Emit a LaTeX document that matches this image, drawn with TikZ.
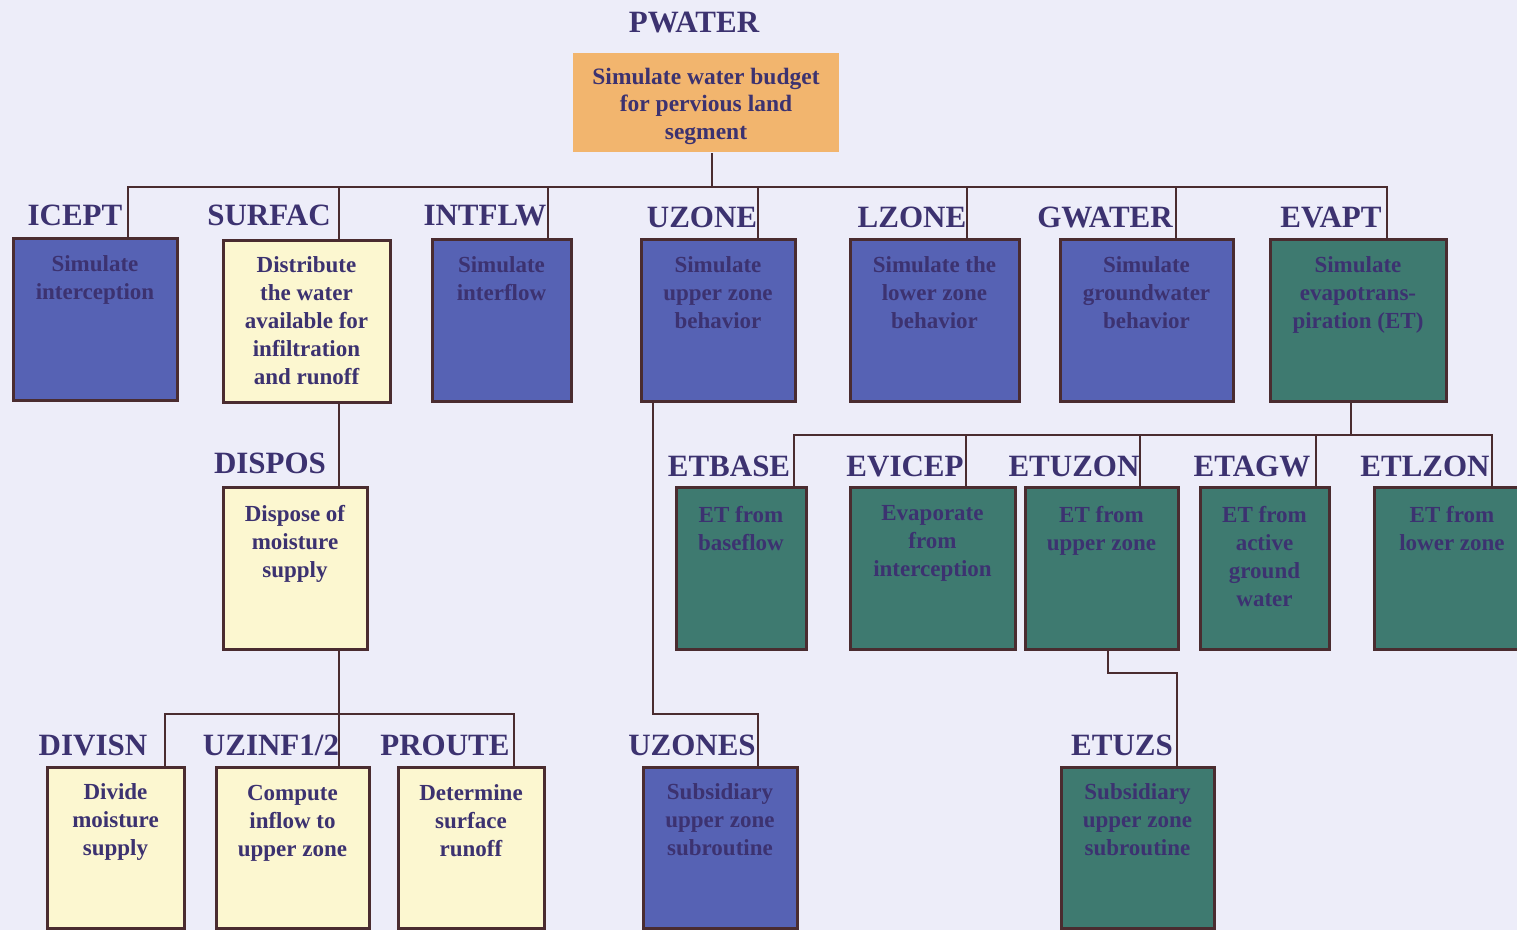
\documentclass[tikz,border=0pt]{standalone}
\usepackage{fontspec}
\setmainfont{Liberation Serif}
\usepackage{tikz}
\usetikzlibrary{calc,positioning}
\usepackage{xcolor}
\definecolor{pagebg}{RGB}{237,237,249}
\definecolor{peach}{RGB}{242,181,110}
\definecolor{cream}{RGB}{252,247,208}
\definecolor{hblue}{RGB}{86,98,180}
\definecolor{hteal}{RGB}{62,122,112}
\definecolor{ink}{RGB}{60,50,112}
\definecolor{wire}{RGB}{74,44,48}
\tikzset{
  box/.style={draw=wire, line width=1.5pt, inner sep=0pt},
  title/.style={font=\fontsize{15.5}{18}\selectfont\bfseries, text=ink, inner sep=0pt,
    text height=10.5pt, text depth=0pt},
  txt/.style={font=\fontsize{11.5}{14}\selectfont\bfseries, text=ink, align=center,
    inner sep=0pt, anchor=north},
  link/.style={draw=wire, line width=1pt},
}

\begin{document}
\begin{tikzpicture}[x=0.5pt, y=-0.5pt]
\useasboundingbox (0,0) rectangle (1517,930);
\clip (0,0) rectangle (1517,930);
\fill[pagebg] (0,0) rectangle (1517,930);

% Main routine
\node[title] (pwater-t) at (694,22) {PWATER};
\node[box, draw=none, fill=peach, minimum width=133pt, minimum height=49.5pt] (pwater) at (706,102.5) {};
\node[txt, font=\fontsize{11.75}{13.75}\selectfont\bfseries] at ($(pwater.north)+(0,16)$)
  {Simulate water budget\\for pervious land\\segment};

% First level
\node[box, fill=hblue, minimum width=82pt, minimum height=81pt] (icept) at (95,320) {};
\node[box, fill=cream, minimum width=83.5pt, minimum height=81pt] (surfac) at (306.5,321.5) {};
\node[box, fill=hblue, minimum width=69.5pt, minimum height=81pt] (intflw) at (501.5,321) {};
\node[box, fill=hblue, minimum width=77pt, minimum height=81pt] (uzone) at (718,321) {};
\node[box, fill=hblue, minimum width=84.5pt, minimum height=81pt] (lzone) at (934.5,321) {};
\node[box, fill=hblue, minimum width=86.5pt, minimum height=81pt] (gwater) at (1146.5,321) {};
\node[box, fill=hteal, minimum width=88pt, minimum height=81pt] (evapt) at (1358,321) {};

\node[title] at (75,215) {ICEPT};
\node[title] at (269,215) {SURFAC};
\node[title] at (485,215) {INTFLW};
\node[title] at (702,217) {UZONE};
\node[title] at (912,217) {LZONE};
\node[title] at (1105,217) {GWATER};
\node[title] at (1331,217) {EVAPT};

\node[txt] at ($(icept.north)+(0,18)$) {Simulate\\interception};
\node[txt] at ($(surfac.north)+(0,17)$) {Distribute\\the water\\available for\\infiltration\\and runoff};
\node[txt] at ($(intflw.north)+(0,18)$) {Simulate\\interflow};
\node[txt] at ($(uzone.north)+(0,18)$) {Simulate\\upper zone\\behavior};
\node[txt] at ($(lzone.north)+(0,18)$) {Simulate the\\lower zone\\behavior};
\node[txt] at ($(gwater.north)+(0,18)$) {Simulate\\groundwater\\behavior};
\node[txt] at ($(evapt.north)+(0,18)$) {Simulate\\evapotrans-\\piration (ET)};

% Second level
\node[box, fill=cream, minimum width=72pt, minimum height=81pt] (dispos) at (295,569) {};
\node[box, fill=hteal, minimum width=65pt, minimum height=81pt] (etbase) at (741,569) {};
\node[box, fill=hteal, minimum width=82.5pt, minimum height=81pt] (evicep) at (932.5,569) {};
\node[box, fill=hteal, minimum width=76.5pt, minimum height=81pt] (etuzon) at (1101.5,569) {};
\node[box, fill=hteal, minimum width=64.5pt, minimum height=81pt] (etagw) at (1264.5,569) {};
\node[box, fill=hteal, minimum width=78pt, minimum height=81pt] (etlzon) at (1452,569) {};

\node[title] at (270,463) {DISPOS};
\node[title] at (729,466) {ETBASE};
\node[title] at (905,466) {EVICEP};
\node[title] at (1074,466) {ETUZON};
\node[title] at (1252,466) {ETAGW};
\node[title] at (1425,466) {ETLZON};

\node[txt] at ($(dispos.north)+(0,18)$) {Dispose of\\moisture\\supply};
\node[txt] at ($(etbase.north)+(0,19)$) {ET from\\baseflow};
\node[txt] at ($(evicep.north)+(0,19)$) {Evaporate\\from\\interception};
\node[txt] at ($(etuzon.north)+(0,19)$) {ET from\\upper zone};
\node[txt] at ($(etagw.north)+(0,19)$) {ET from\\active\\ground\\water};
\node[txt] at ($(etlzon.north)+(0,19)$) {ET from\\lower zone};

% Third level
\node[box, fill=cream, minimum width=68.5pt, minimum height=80.5pt] (divisn) at (115.5,847.5) {};
\node[box, fill=cream, minimum width=76.5pt, minimum height=80.5pt] (uzinf) at (292.5,847.5) {};
\node[box, fill=cream, minimum width=73pt, minimum height=80.5pt] (proute) at (471,847.5) {};
\node[box, fill=hblue, minimum width=77pt, minimum height=80.5pt] (uzones) at (720,847.5) {};
\node[box, fill=hteal, minimum width=76.5pt, minimum height=80.5pt] (etuzs) at (1137.5,847.5) {};

\node[title] at (93,745) {DIVISN};
\node[title] at (271,745) {UZINF1/2};
\node[title] at (445,745) {PROUTE};
\node[title] at (692,745) {UZONES};
\node[title] at (1122,745) {ETUZS};

\node[txt] at ($(divisn.north)+(0,18)$) {Divide\\moisture\\supply};
\node[txt] at ($(uzinf.north)+(0,19)$) {Compute\\inflow to\\upper zone};
\node[txt] at ($(proute.north)+(0,19)$) {Determine\\surface\\runoff};
\node[txt] at ($(uzones.north)+(0,18)$) {Subsidiary\\upper zone\\subroutine};
\node[txt] at ($(etuzs.north)+(0,18)$) {Subsidiary\\upper zone\\subroutine};

% Calling lines
\draw[link] ($(pwater.south)+(6,0)$) -- ++(0,34) coordinate (bus1);
\draw[link] (bus1) -| ($(icept.north)+(33,0)$);
\draw[link] (bus1) -| ($(surfac.north)+(32.5,0)$);
\draw[link] (bus1) -| ($(intflw.north)+(46.5,0)$);
\draw[link] (bus1) -| ($(uzone.north)+(40,0)$);
\draw[link] (bus1) -| ($(lzone.north)+(32.5,0)$);
\draw[link] (bus1) -| ($(gwater.north)+(29.5,0)$);
\draw[link] (bus1) -| ($(evapt.north)+(29,0)$);

\draw[link] ($(surfac.south)+(32.5,0)$) -- ($(dispos.north)+(44,0)$);
\draw[link] ($(dispos.south)+(44,0)$) -- ++(0,63) coordinate (bus3);
\draw[link] (bus3) -| ($(divisn.north)+(49.5,0)$);
\draw[link] (bus3) -| ($(uzinf.north)+(46.5,0)$);
\draw[link] (bus3) -| ($(proute.north)+(43,0)$);

\draw[link] ($(uzone.south)+(-65,0)$) -- ++(0,311) -| ($(uzones.north)+(38,0)$);

\draw[link] ($(evapt.south)+(-7,0)$) -- ++(0,32) coordinate (bus2);
\draw[link] (bus2) -| ($(etbase.north)+(53,0)$);
\draw[link] (bus2) -| ($(evicep.north)+(33.5,0)$);
\draw[link] (bus2) -| ($(etuzon.north)+(38.5,0)$);
\draw[link] (bus2) -| ($(etagw.north)+(51.5,0)$);
\draw[link] (bus2) -| ($(etlzon.north)+(40,0)$);

\draw[link] ($(etuzon.south)+(6.5,0)$) -- ++(0,22) -| ($(etuzs.north)+(39.5,0)$);
\end{tikzpicture}
\end{document}
